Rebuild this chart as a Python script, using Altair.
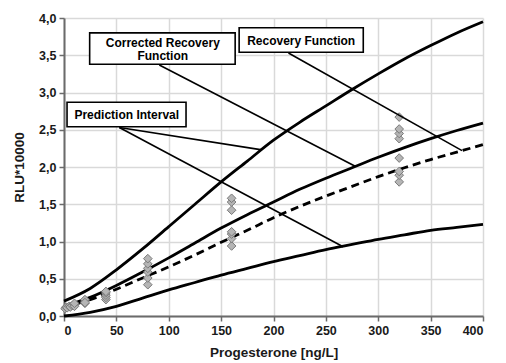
import altair as alt
import pandas as pd

# ---- data ----
conc = [0, 25, 50, 75, 100, 125, 150, 175, 200, 225, 250, 275, 300, 325, 350, 375, 400]
upper = [0.20, 0.37, 0.62, 0.90, 1.20, 1.50, 1.80, 2.08, 2.36, 2.60, 2.82, 3.04, 3.25, 3.45, 3.63, 3.80, 3.95]
corrected = [0.13, 0.25, 0.41, 0.59, 0.78, 0.98, 1.18, 1.36, 1.53, 1.70, 1.85, 1.99, 2.13, 2.26, 2.38, 2.49, 2.59]
recovery = [0.12, 0.22, 0.36, 0.51, 0.66, 0.82, 0.99, 1.15, 1.32, 1.47, 1.61, 1.74, 1.87, 1.99, 2.10, 2.20, 2.30]
lower = [0.0, 0.05, 0.13, 0.24, 0.35, 0.45, 0.55, 0.64, 0.73, 0.81, 0.89, 0.96, 1.03, 1.09, 1.15, 1.19, 1.23]

pt_x = [1, 2, 3, 5, 6, 8, 10, 10, 10, 20, 20, 20, 20,
        40, 40, 40, 40, 40,
        80, 80, 80, 80, 80, 80,
        160, 160, 160, 160, 160, 160, 160,
        320, 320, 320, 320, 320, 320, 320, 320]
pt_y = [0.10, 0.12, 0.11, 0.13, 0.12, 0.14, 0.15, 0.13, 0.17, 0.17, 0.20, 0.22, 0.18,
        0.22, 0.25, 0.28, 0.31, 0.33,
        0.42, 0.51, 0.59, 0.64, 0.70, 0.77,
        0.94, 1.04, 1.10, 1.13, 1.42, 1.53, 1.58,
        1.80, 1.89, 1.94, 2.12, 2.38, 2.45, 2.51, 2.67]

box_labels = ["Corrected Recovery Function", "Recovery Function", "Prediction Interval"]
box_x1 = [24.5, 167.2, 2.9]
box_x2 = [163.4, 285.7, 116.5]
box_y1 = [3.38, 3.54, 2.54]
box_y2 = [3.80, 3.87, 2.87]

text_lines = ["Corrected Recovery", "Function", "Recovery Function", "Prediction Interval"]
text_x = [94.3, 94.3, 226.4, 59.9]
text_y = [3.66, 3.49, 3.69, 2.70]

lead_x1 = [91.0, 214.3, 52.8, 52.8]
lead_y1 = [3.37, 3.53, 2.53, 2.53]
lead_x2 = [278, 380, 189, 266.5]
lead_y2 = [2.01, 2.22, 2.23, 0.93]

x_ticks = [0, 50, 100, 150, 200, 250, 300, 350, 400]
y_ticks = [0.0, 0.5, 1.0, 1.5, 2.0, 2.5, 3.0, 3.5, 4.0]

# ---- tables ----
curves = pd.DataFrame(
    [{"x": c, "y": v, "s": "upper"} for c, v in zip(conc, upper)]
    + [{"x": c, "y": v, "s": "lower"} for c, v in zip(conc, lower)]
    + [{"x": c, "y": v, "s": "corrected"} for c, v in zip(conc, corrected)]
)
rec = pd.DataFrame({"x": conc, "y": recovery})
pts = pd.DataFrame({"x": pt_x, "y": pt_y})
boxes = pd.DataFrame({"label": box_labels, "x1": box_x1, "x2": box_x2, "y1": box_y1, "y2": box_y2})
texts = pd.DataFrame({"t": text_lines, "x": text_x, "y": text_y})
leads = pd.DataFrame({"x1": lead_x1, "y1": lead_y1, "x2": lead_x2, "y2": lead_y2})

fmt = "replace(format(datum.value, '.1f'), '.', ',')"
xs = alt.Scale(domain=[0, 400], nice=False)
ys = alt.Scale(domain=[0, 4], nice=False)
xax = alt.Axis(values=x_ticks, format="d", labelOverlap=False, title="Progesterone [ng/L]")
yax = alt.Axis(values=y_ticks, labelExpr=fmt, labelOverlap=False, title="RLU*10000")


def X(f="x"):
    return alt.X(f + ":Q", scale=xs, axis=xax)


def Y(f="y"):
    return alt.Y(f + ":Q", scale=ys, axis=yax)


solid = alt.Chart(curves).mark_line(color="black", strokeWidth=2.8, interpolate="monotone").encode(
    x=X(), y=Y(), detail="s:N")
dashed = alt.Chart(rec).mark_line(color="black", strokeWidth=2.8, strokeDash=[8, 5],
                                  interpolate="monotone").encode(x=X(), y=Y())
points = alt.Chart(pts).mark_point(shape="diamond", filled=True, fill="#b5b5b5", stroke="#7a7a7a",
                                   strokeWidth=1, size=75, opacity=1).encode(x=X(), y=Y())
leaders = alt.Chart(leads).mark_rule(color="black", strokeWidth=1.6).encode(
    x=X("x1"), y=Y("y1"), x2="x2:Q", y2="y2:Q")
rects = alt.Chart(boxes).mark_rect(fill="white", stroke="black", strokeWidth=1.6).encode(
    x=X("x1"), x2="x2:Q", y=Y("y1"), y2="y2:Q")
labels = alt.Chart(texts).mark_text(font="Liberation Sans", fontWeight="bold", fontSize=12,
                                    color="black").encode(x=X(), y=Y(), text="t:N")

chart = alt.layer(solid, dashed, points, leaders, rects, labels).properties(
    width=419, height=298,
    autosize=alt.AutoSizeParams(type="none"),
    padding={"left": 56, "top": 10, "right": 10, "bottom": 47},
).configure_view(stroke=None).configure_axis(
    labelFont="Liberation Sans", labelFontWeight="bold", labelFontSize=12.5, labelColor="#1a1a1a",
    titleFont="Liberation Sans", titleFontWeight="bold", titleFontSize=13.5, titleColor="#1a1a1a",
    gridColor="#d9d9d9", gridWidth=1.5, domainColor="#6b6b6b", domainWidth=2,
    tickColor="#6b6b6b", tickSize=5, tickWidth=1.5, labelPadding=3,
).configure_axisY(titlePadding=12, labelOverlap=False).configure_axisX(titlePadding=9, labelOverlap=False)

chart.save("out.html", embed_options={"renderer": "svg", "actions": False})
